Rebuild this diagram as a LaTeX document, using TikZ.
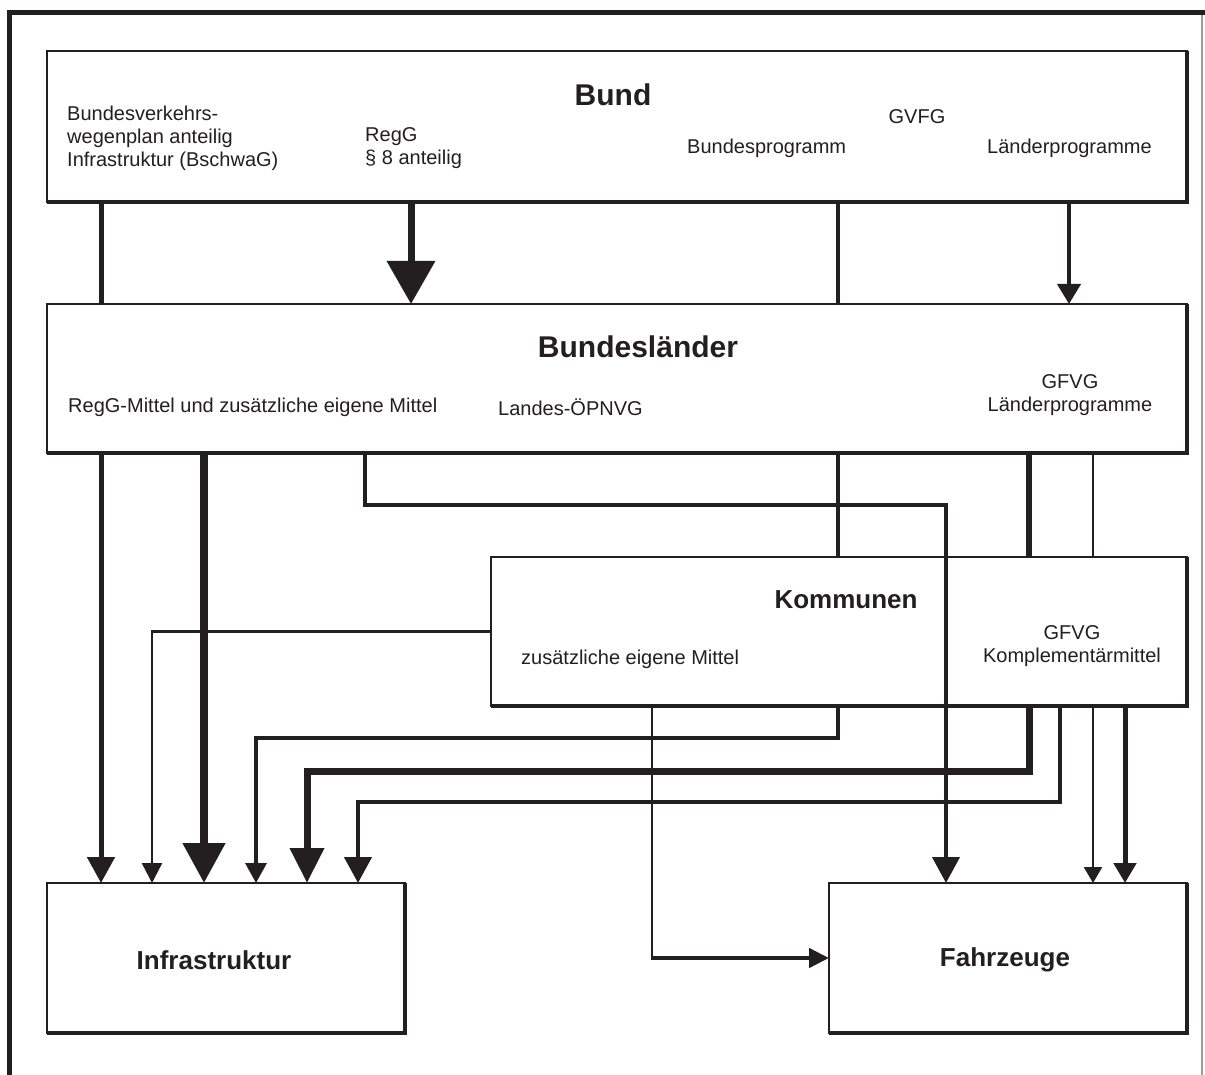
\documentclass[tikz,border=0pt]{standalone}
\usepackage{fontspec}
\setmainfont{Liberation Sans}
\usetikzlibrary{arrows.meta}
\definecolor{ink}{HTML}{231F20}
\definecolor{frgrey}{HTML}{9A9A9A}
\begin{document}
\begin{tikzpicture}[x=1pt,y=-1pt, line join=miter, line cap=butt,
  box/.style={draw=ink, line width=2pt, fill=white, inner sep=0pt, outer sep=0pt},
  shadow/.style={draw=ink, line width=3.5pt},
  lbl/.style={font=\fontsize{20}{23}\selectfont, inner sep=0pt, text=ink},
  big/.style={font=\fontsize{30}{34}\selectfont\bfseries, inner sep=0pt, text=ink},
  mid/.style={font=\fontsize{26}{30}\selectfont\bfseries, inner sep=0pt, text=ink},
  conn/.style={draw=ink, line width=#1pt},
  hd/.style 2 args={-{Triangle[width=#1pt,length=#2pt]}},
]
\useasboundingbox (0,0) rectangle (1205,1075);
\fill[white] (0,0) rectangle (1205,1075);

% outer frame
\draw[draw=ink, line width=5pt] (9,1075) -- (9,13) -- (1205,13);
\draw[draw=frgrey, line width=1.5pt] (1202,15) -- (1202,1075);

% boxes
\node[box, minimum width=1140pt, minimum height=151pt] (bund) at (617,126.5) {};
\node[box, minimum width=1140pt, minimum height=149pt] (land) at (617,378.5) {};
\node[box, minimum width=696pt, minimum height=149pt] (komm) at (839,631.5) {};
\node[box, minimum width=358pt, minimum height=150pt] (infra) at (226,958) {};
\node[box, minimum width=358pt, minimum height=150pt] (fahr) at (1008,958) {};
\foreach \b in {bund,land,komm,infra,fahr}
  \draw[shadow] (\b.north east) -- (\b.south east) -- (\b.south west);

% texts in Bund
\node[big] (tBund) at (613,95) {Bund};
\node[lbl, anchor=west, align=left] (tBvwp) at (67,138) {Bundesverkehrs-\\wegenplan anteilig\\Infrastruktur (BschwaG)};
\node[lbl, anchor=west, align=left] (tRegG) at (365,148.5) {RegG\\\S\ 8 anteilig};
\node[lbl, anchor=west] (tBprog) at (687,148) {Bundesprogramm};
\node[lbl] (tGVFG) at (917,117) {GVFG};
\node[lbl, anchor=west] (tLprog) at (987,148) {Länderprogramme};

% texts in Bundeslaender
\node[big] (tLand) at (638,347) {Bundesländer};
\node[lbl, anchor=west] (tRegGM) at (68,407) {RegG-Mittel und zusätzliche eigene Mittel};
\node[lbl, anchor=west] (tLOPNV) at (498,407) {Landes-ÖPNVG};
\node[lbl, align=center] (tGFVG1) at (1070,395) {GFVG\\Länderprogramme};

% texts in Kommunen
\node[mid] (tKomm) at (846,600) {Kommunen};
\node[lbl, anchor=west] (tKeig) at (521,659) {zusätzliche eigene Mittel};
\node[lbl, align=center] (tGFVG2) at (1072,646) {GFVG\\Komplementärmittel};

% texts in targets
\node[mid] (tInfra) at (214,960) {Infrastruktur};
\node[mid] (tFahr) at (1005,960) {Fahrzeuge};

% Bund -> Bundeslaender
\draw[conn=5] (101,0 |- bund.south) -- (101,0 |- land.north);
\draw[conn=7, hd={47}{43}] (411,0 |- bund.south) -- (411,0 |- land.north);
\draw[conn=4] (838,0 |- bund.south) -- (838,0 |- land.north);
\draw[conn=4, hd={23}{20}] (1069,0 |- bund.south) -- (1069,0 |- land.north);

% Bundeslaender -> ...
\draw[conn=5, hd={27}{26}] (101,0 |- land.south) -- (101,0 |- infra.north);
\draw[conn=8, hd={41}{40}] (204,0 |- land.south) -- (204,0 |- infra.north);
\draw[conn=4, hd={27}{26}] (365,0 |- land.south) -- (365,505) -- (946,505) -- (946,0 |- fahr.north);
\draw[conn=4] (838,0 |- land.south) -- (838,0 |- komm.north);
\draw[conn=6] (1029,0 |- land.south) -- (1029,0 |- komm.north);
\draw[conn=2.5] (1093,0 |- land.south) -- (1093,0 |- komm.north);

% Kommunen -> ...
\draw[conn=2.5, hd={20}{20}] (komm.west) -| (152,0 |- infra.north);
\draw[conn=2.5] (652,0 |- komm.south) -- (652,0 |- fahr.west);
\draw[conn=4.5, hd={19}{20}] (650.75,0 |- fahr.west) -- (fahr.west);
\draw[conn=3.5, hd={21}{20}] (838,0 |- komm.south) -- (838,738) -| (256,0 |- infra.north);
\draw[conn=7, hd={33}{35}] (1029,0 |- komm.south) -- (1029,771) -| (307,0 |- infra.north);
\draw[conn=4.5, hd={27}{26}] (1060,0 |- komm.south) -- (1060,802) -| (358,0 |- infra.north);
\draw[conn=2.5, hd={18}{16}] (1093,0 |- komm.south) -- (1093,0 |- fahr.north);
\draw[conn=5, hd={22}{20}] (1125,0 |- komm.south) -- (1125,0 |- fahr.north);
\end{tikzpicture}
\end{document}
